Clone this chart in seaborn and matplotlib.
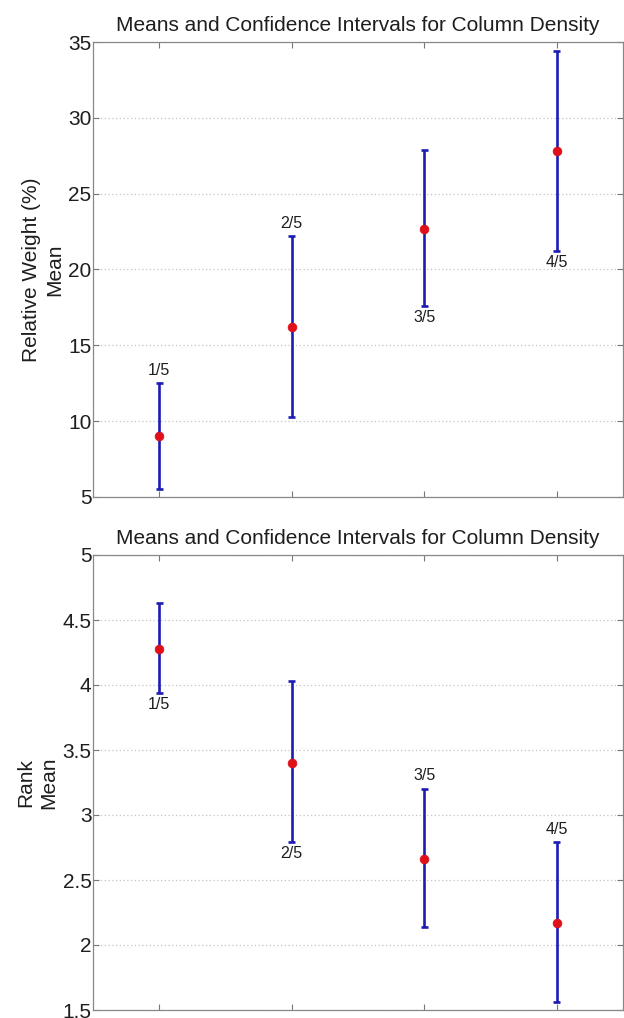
import numpy as np
import pandas as pd
import seaborn as sns
import matplotlib
matplotlib.use("Agg")
import matplotlib.pyplot as plt

# ---- data ----
groups = [1, 2, 3, 4]
group_labels = ["1/5", "2/5", "3/5", "4/5"]

weight_mean = [9.0, 16.2, 22.7, 27.8]
weight_lower = [5.5, 10.3, 17.6, 21.2]
weight_upper = [12.5, 22.2, 27.9, 34.4]
weight_label_side = ["above", "above", "below", "below"]

rank_mean = [4.28, 3.40, 2.66, 2.17]
rank_lower = [3.94, 2.79, 2.14, 1.56]
rank_upper = [4.63, 4.03, 3.20, 2.79]
rank_label_side = ["below", "below", "above", "above"]

title = "Means and Confidence Intervals for Column Density"

sns.set_theme(style="white")
plt.rcParams['font.family'] = ['Liberation Sans', 'DejaVu Sans']

fig = plt.figure(figsize=(6.24, 10.18), dpi=100)
ax1 = fig.add_axes([93/624, 1 - 497/1018, 530/624, 455/1018])
ax2 = fig.add_axes([93/624, 1 - 1010/1018, 530/624, 455/1018])

BLUE = "#1c1cb4"
RED = "#e0101a"
TXT = "#1e1e1e"

def panel(ax, mean, lower, upper, sides, ylim, yticks, ylabel):
    df = pd.DataFrame({"g": groups, "mean": mean, "lo": lower, "hi": upper})
    ax.vlines(df["g"], df["lo"], df["hi"], color=BLUE, lw=1.9, zorder=2)
    for y in (df["lo"], df["hi"]):
        ax.hlines(y, df["g"] - 0.028, df["g"] + 0.028, color=BLUE, lw=1.9, zorder=2)
    sns.scatterplot(data=df, x="g", y="mean", ax=ax, color=RED, s=40,
                    edgecolor=RED, zorder=3, legend=False)
    for g, lab, lo, hi, side in zip(groups, group_labels, lower, upper, sides):
        if side == "above":
            ax.annotate(lab, (g, hi), xytext=(0, 4), textcoords="offset points",
                        ha="center", va="bottom", fontsize=11.5, color=TXT)
        else:
            ax.annotate(lab, (g, lo), xytext=(0, -3), textcoords="offset points",
                        ha="center", va="top", fontsize=11.5, color=TXT)
    ax.set_xlim(0.5, 4.5)
    ax.set_ylim(*ylim)
    ax.set_yticks(yticks)
    ax.set_yticklabels([f"{t:g}" for t in yticks], fontsize=15, color=TXT)
    ax.set_xticks(groups)
    ax.set_xticklabels([])
    ax.set_xlabel("")
    ax.set_ylabel(ylabel, fontsize=15, color=TXT, labelpad=3, linespacing=1.25)
    ax.tick_params(axis="both", direction="in", length=4, width=0.8, color="#777777",
                   top=True, right=True, left=True, bottom=True, pad=1)
    ax.grid(axis="y", linestyle=(0, (1, 2)), color="#c4c4c4", lw=0.9)
    ax.set_axisbelow(True)
    for s in ax.spines.values():
        s.set_color("#888888")
        s.set_linewidth(0.9)
    ax.set_title(title, fontsize=15, color=TXT, pad=8)

panel(ax1, weight_mean, weight_lower, weight_upper, weight_label_side,
      (5, 35), [5, 10, 15, 20, 25, 30, 35], "Relative Weight (%)\nMean")
panel(ax2, rank_mean, rank_lower, rank_upper, rank_label_side,
      (1.5, 5), [1.5, 2, 2.5, 3, 3.5, 4, 4.5, 5], "Rank\nMean")

fig.savefig("out.png", dpi=100)
